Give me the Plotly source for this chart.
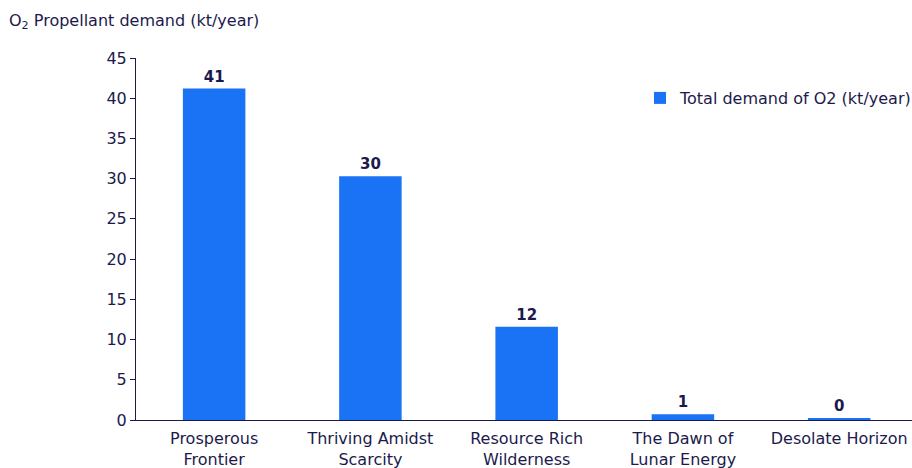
import plotly.graph_objects as go

categories = ["Prosperous<br>Frontier", "Thriving Amidst<br>Scarcity", "Resource Rich<br>Wilderness",
              "The Dawn of<br>Lunar Energy", "Desolate Horizon"]
values = [41.2, 30.3, 11.6, 0.7, 0.2]
labels = ["41", "30", "12", "1", "0"]
series_name = "Total demand of O2 (kt/year)"
y_ticks = [0, 5, 10, 15, 20, 25, 30, 35, 40, 45]

navy = "#1c1a4c"
blue = "#1a73f5"
font = "DejaVu Sans, sans-serif"

fig = go.Figure()
fig.add_trace(go.Bar(
    x=list(range(len(categories))), y=values, name=series_name,
    marker=dict(color=blue, line=dict(width=0)),
    width=0.4,
    text=labels, textposition="outside",
    textfont=dict(family=font, size=15, color=navy, weight="bold"),
    cliponaxis=False,
))

fig.update_layout(
    width=912, height=468,
    margin=dict(l=136, r=0, t=58, b=48, autoexpand=False),
    plot_bgcolor="white", paper_bgcolor="white",
    font=dict(family=font, size=16, color=navy),
    showlegend=True,
    legend=dict(x=(640 - 136) / 776, xanchor="left", y=(420 - 98) / 362, yanchor="middle",
                font=dict(size=16, color=navy), bgcolor="rgba(0,0,0,0)"),
    xaxis=dict(
        tickmode="array", tickvals=list(range(len(categories))), ticktext=categories,
        range=[-0.5, 4.466], showline=True, linecolor=navy, linewidth=1,
        ticks="", showgrid=False, zeroline=False, automargin=False,
        ticklabelstandoff=4,
        tickfont=dict(size=16, color=navy),
    ),
    yaxis=dict(
        range=[0, 45], tickvals=y_ticks, showline=True, linecolor=navy, linewidth=1,
        ticks="outside", ticklen=5, tickcolor=navy, showgrid=False, zeroline=False,
        automargin=False, tickfont=dict(size=16, color=navy),
    ),
    annotations=[dict(
        text="O<sub>2</sub> Propellant demand (kt/year)", xref="paper", yref="paper",
        x=-136/776, y=1, yshift=37, xanchor="left", yanchor="middle", showarrow=False,
        font=dict(size=16, color=navy), xshift=7,
    )],
)

fig.write_html("out.html", config={"displayModeBar": False},
               post_script="document.body.style.margin='0';")
